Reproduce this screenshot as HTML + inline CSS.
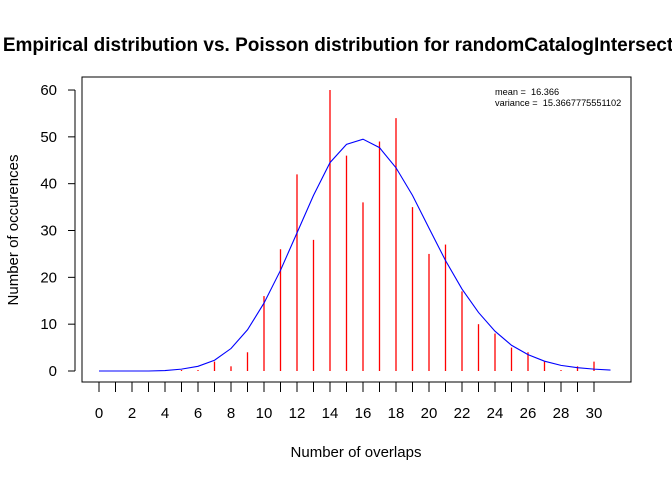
<!DOCTYPE html>
<html><head><meta charset="utf-8"><style>
body{margin:0;background:#fff}
svg{display:block;font-family:"Liberation Sans",Arial,sans-serif}
</style></head><body>
<svg id="chart" width="672" height="480" viewBox="0 0 672 480">
<text x="338" y="51" text-anchor="middle" font-size="19" font-weight="bold">Empirical distribution vs. Poisson distribution for randomCatalogIntersect</text>
<rect x="82" y="77" width="549" height="305" fill="none" stroke="#000" stroke-width="1"/>
<g id="marks"></g>
<g id="axes"></g>
<text x="356" y="457" text-anchor="middle" font-size="15">Number of overlaps</text>
<text transform="translate(18,230) rotate(-90)" text-anchor="middle" font-size="15">Number of occurences</text>
<text x="495" y="95" font-size="9.2">mean =&#160; 16.366</text>
<text x="495" y="106" font-size="9.2">variance =&#160; 15.3667775551102</text>
</svg>
<script>
const counts = [0,0,0,0,0,0.2,0.2,2,1,4,16,26,42,28,60,46,36,49,54,35,25,27,17,10,8,5,4,2,0.2,1,2];
const poisson = [0,0,0,0,0.1,0.4,1,2.3,4.8,8.8,14.5,21.5,29.5,37.5,44.5,48.4,49.5,47.7,43.4,37.5,30.5,23.6,17.5,12.5,8.5,5.5,3.5,2.1,1.2,0.7,0.4,0.2];
const xTicks = [0,2,4,6,8,10,12,14,16,18,20,22,24,26,28,30];
const yTicks = [0,10,20,30,40,50,60];
const NS='http://www.w3.org/2000/svg';
const sx = v => 99 + v*16.5;
const sy = v => 371 - v*4.683;
const marks = document.getElementById('marks');
const axes = document.getElementById('axes');
function mk(tag, attrs, parent){const e=document.createElementNS(NS,tag);for(const k in attrs)e.setAttribute(k,attrs[k]);parent.appendChild(e);return e;}
counts.forEach((c,i)=>{
  if(c<=0) return;
  const l = mk('line',{x1:sx(i),x2:sx(i),y1:sy(0),y2:sy(c),stroke:'#ff0000','stroke-width':1.3},marks);
  
  
});
const pl = mk('polyline',{points:poisson.map((v,i)=>sx(i)+','+sy(v)).join(' '),fill:'none',stroke:'#0000ff','stroke-width':1.1},marks);


for(let i=0;i<=30;i++){
  const t = mk('line',{x1:sx(i),x2:sx(i),y1:382,y2:392,stroke:'#000'},axes);
  
  
}
xTicks.forEach(v=>{
  const t = mk('text',{x:sx(v),y:418,'text-anchor':'middle','font-size':15},axes);
  t.textContent=v;
  
  
});
const ya = mk('line',{x1:75,x2:75,y1:sy(0),y2:sy(60),stroke:'#000'},axes);


yTicks.forEach(v=>{
  const t = mk('line',{x1:68,x2:75,y1:sy(v),y2:sy(v),stroke:'#000'},axes);
  
  
  const tx = mk('text',{x:57,y:sy(v)+5,'text-anchor':'end','font-size':15},axes);
  tx.textContent=v;
  
  
});
</script>
</body></html>
